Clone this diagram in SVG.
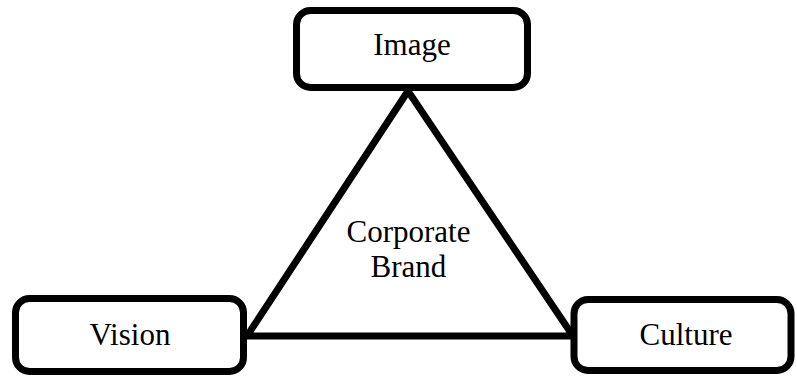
<svg xmlns="http://www.w3.org/2000/svg" width="797" height="377" viewBox="0 0 797 377">
  <style>
    .box { fill: #ffffff; stroke: #000000; stroke-width: 7; }
    .edge { fill: none; stroke: #000000; stroke-width: 7; stroke-linejoin: miter; }
    .label { font-family: "Liberation Serif", "Times New Roman", serif; font-size: 31px; fill: #000000; text-anchor: middle; }
  </style>
  <rect width="797" height="377" fill="#ffffff"/>
  <g id="connectors">
    <path class="edge" d="M408,91 L247,336 L573,336 Z"/>
  </g>
  <g id="image">
    <rect class="box" x="296.5" y="10.5" width="231" height="77" rx="14"/>
    <text class="label" x="412" y="55">Image</text>
  </g>
  <g id="vision">
    <rect class="box" x="15.5" y="298.5" width="228" height="73" rx="14"/>
    <text class="label" x="130" y="345">Vision</text>
  </g>
  <g id="culture">
    <rect class="box" x="574" y="299.5" width="217" height="71" rx="14"/>
    <text class="label" x="686" y="345">Culture</text>
  </g>
  <g id="corporate-brand">
    <text class="label" x="408.5" y="242">Corporate</text>
    <text class="label" x="408.5" y="277">Brand</text>
  </g>
</svg>
